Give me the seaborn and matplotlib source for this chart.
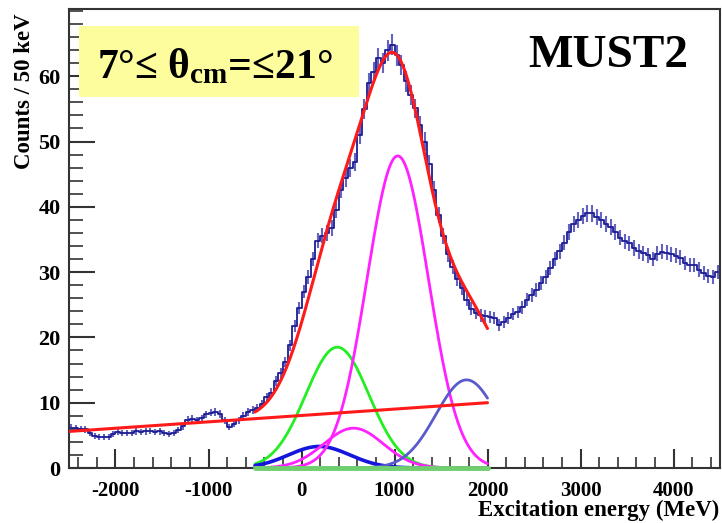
import numpy as np
import pandas as pd
import matplotlib
matplotlib.use("Agg")
import matplotlib.pyplot as plt
import seaborn as sns
from matplotlib.patches import Rectangle
from matplotlib.ticker import MultipleLocator, FixedLocator

sns.set_theme(style="white")
plt.rcParams['font.family'] = ['Liberation Serif', 'DejaVu Serif']
plt.rcParams['font.weight'] = 'bold'
plt.rcParams['mathtext.fontset'] = 'custom'
plt.rcParams['mathtext.rm'] = 'Liberation Serif:bold'
plt.rcParams['mathtext.bf'] = 'Liberation Serif:bold'
plt.rcParams['mathtext.it'] = 'Liberation Serif:bold'
plt.rcParams['axes.unicode_minus'] = False
for key in ['text.color', 'axes.labelcolor', 'xtick.color', 'ytick.color']:
    plt.rcParams[key] = 'black'

# ---------------- data (50 keV bins, -2500 .. 4500) ----------------
bin_start = -2500
bin_width = 50
counts_low = [6.2, 6.1, 6.0, 5.9, 5.3, 4.9, 4.8, 4.7, 4.7, 5.2,
              5.5, 5.4, 5.3, 5.4, 5.6, 5.5, 5.6, 5.7, 5.5, 5.6,
              5.3, 5.2, 5.3, 5.8, 6.4, 7.4, 7.5, 7.3, 7.6, 8.2,
              8.5, 8.6, 8.3, 7.3, 6.3, 6.8, 7.3, 8.0, 8.6, 8.9,
              9.2, 9.8]
counts_rise = [10.9, 11.5, 13.3, 14.5, 16.2, 18.8, 21.8, 24.5, 27.0, 29.2,
               32.0, 34.8, 35.6, 36.0, 36.8, 39.5, 42.6]
counts_peak = [44.4, 45.9, 46.9, 51.0, 55.0, 58.9, 60.7, 62.8, 62.0, 64.0,
               64.8, 63.2, 61.7, 59.2, 57.1, 55.1, 52.5, 50.0, 46.5, 42.6,
               38.8, 35.5, 32.7, 30.8, 29.0, 27.5, 25.8, 24.4, 23.8, 23.4,
               23.3, 23.1, 23.0, 21.9, 22.4, 23.0, 23.6, 23.9, 24.6, 25.8,
               26.5]
counts_high = [27.3, 28.3, 29.3, 30.6, 32.0, 33.2, 34.5, 36.1, 37.4, 38.0,
               38.6, 39.0, 39.0, 38.5, 38.0, 37.4, 36.9, 36.2, 35.3, 34.7,
               34.4, 33.7, 33.2, 32.9, 32.6, 32.0, 32.8, 33.1, 33.0, 32.7,
               32.5, 32.2, 31.4, 31.1, 31.1, 30.4, 29.9, 29.4, 29.3, 30.0]
counts = np.array(counts_low + counts_rise + counts_peak + counts_high)
centers = bin_start + bin_width * (np.arange(len(counts)) + 0.5)
errors = 0.2 * np.sqrt(counts)

# fit components (gaussians): amplitude, centroid, sigma
comp_names = ["green", "blue", "magenta_small", "magenta_big", "purple"]
comp_amp = [18.5, 3.3, 6.1, 47.8, 13.5]
comp_mu = [385, 190, 560, 1035, 1775]
comp_sigma = [340, 330, 320, 330, 330]
comp_colors = ["#22ee22", "#1515dd", "#ff22ff", "#ff22ff", "#5a5acc"]
comp_lw = [2.0, 2.6, 2.0, 2.0, 2.0]
# linear background
bg_x = [-2500, 2000]
bg_y = [5.6, 10.0]
fit_range = [-500, 2000]

y_tick_values = [0, 10, 20, 30, 40, 50, 60]

# ---------------- figure ----------------
fig = plt.figure(figsize=(7.22, 5.23), dpi=100)
ax = fig.add_axes([69 / 722, 55 / 523, 651 / 722, 459 / 523])

# histogram as steps + error bars
df = pd.DataFrame({"E": centers, "N": counts})
sns.lineplot(data=df, x="E", y="N", ax=ax, drawstyle="steps-mid",
             color="#1c1c94", lw=1.3, estimator=None, sort=True, zorder=3)
ax.errorbar(centers, counts, yerr=errors, fmt="none", ecolor="#4848b8",
            elinewidth=1.5, alpha=0.85, zorder=2)

# fit curves
xf = np.linspace(fit_range[0], fit_range[1], 400)
bg_slope = (bg_y[1] - bg_y[0]) / (bg_x[1] - bg_x[0])
bg_f = bg_y[0] + bg_slope * (xf - bg_x[0])
total = bg_f.copy()
for name, a, m, s, c, lw in zip(comp_names, comp_amp, comp_mu, comp_sigma,
                                comp_colors, comp_lw):
    y = a * np.exp(-0.5 * ((xf - m) / s) ** 2)
    total += y
    sns.lineplot(x=xf, y=y, ax=ax, color=c, lw=lw, estimator=None, zorder=4)

# zero-amplitude component along axis
sns.lineplot(x=fit_range, y=[0, 0], ax=ax, color="#6fcf6f", lw=3.5,
             estimator=None, zorder=6, clip_on=False)
# background line
sns.lineplot(x=bg_x, y=bg_y, ax=ax, color="#ff1a1a", lw=2.2,
             estimator=None, zorder=5)
# total fit
sns.lineplot(x=xf, y=total, ax=ax, color="#ff1a1a", lw=2.2,
             estimator=None, zorder=5)

ax.set_xlim(-2500, 4500)
ax.set_ylim(0, 70.3)
ax.xaxis.set_major_locator(MultipleLocator(1000))
ax.xaxis.set_minor_locator(MultipleLocator(200))
ax.yaxis.set_major_locator(FixedLocator(y_tick_values))
ax.yaxis.set_minor_locator(MultipleLocator(2))
ax.tick_params(axis="x", which="major", direction="in", length=14, width=1.5,
               labelsize=15, pad=9, color="#333333", bottom=True)
ax.tick_params(axis="x", which="minor", direction="in", length=8, width=1.2,
               color="#333333", bottom=True)
ax.tick_params(axis="y", which="major", direction="in", length=19, width=1.5,
               labelsize=16, pad=6, color="#333333", left=True)
ax.tick_params(axis="y", which="minor", direction="in", length=10, width=1.2,
               color="#333333", left=True)
for lab in ax.get_xticklabels() + ax.get_yticklabels():
    lab.set_fontweight("bold")
for sp in ax.spines.values():
    sp.set_color("#333333")
    sp.set_linewidth(1.5)
ax.set_xlabel("")
ax.set_ylabel("")

fig.text(719 / 722, 1 - 516 / 523, "Excitation energy (MeV)", ha="right",
         va="baseline", fontsize=16.5, fontweight="bold")
fig.text(25 / 722, 1 - 13 / 523, "Counts / 50 keV", rotation=90, ha="center",
         va="top", fontsize=16.5, fontweight="bold")

# yellow label box
fig.patches.append(Rectangle((79 / 722, 1 - 97 / 523), 280 / 722, 71 / 523,
                             transform=fig.transFigure, facecolor="#fdfd9e",
                             edgecolor="none", zorder=6))
fig.text(97 / 722, 1 - 78 / 523, r"7°≤ θ$_{\rm cm}$=≤21°", ha="left",
         va="baseline", fontsize=30, fontweight="bold", zorder=7)
fig.text(528 / 722, 1 - 67 / 523, "MUST2", ha="left", va="baseline",
         fontsize=34, fontweight="bold")

fig.savefig("out.png", dpi=100)
